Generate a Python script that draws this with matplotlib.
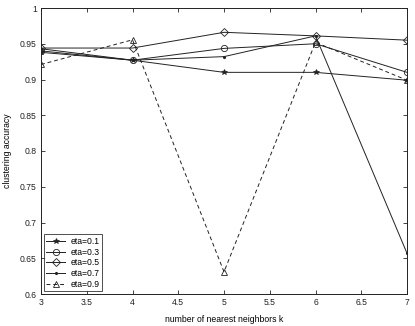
import matplotlib
matplotlib.use("Agg")
import matplotlib.pyplot as plt

k = [3, 4, 5, 6, 7]
eta01 = [0.938, 0.927, 0.910, 0.910, 0.899]
eta03 = [0.940, 0.927, 0.9435, 0.950, 0.910]
eta05 = [0.944, 0.944, 0.966, 0.961, 0.955]
eta07 = [0.943, 0.927, 0.932, 0.961, 0.657]
eta09 = [0.921, 0.9555, 0.631, 0.952, 0.899]
labels = ["eta=0.1", "eta=0.3", "eta=0.5", "eta=0.7", "eta=0.9"]
xticks = [3, 3.5, 4, 4.5, 5, 5.5, 6, 6.5, 7]
yticks = [0.6, 0.65, 0.7, 0.75, 0.8, 0.85, 0.9, 0.95, 1]

plt.rcParams['font.family'] = ['Liberation Sans', 'DejaVu Sans']
fig = plt.figure(figsize=(4.15, 3.26), dpi=100)
ax = fig.add_axes([41/415, 1 - 294/326, (407 - 41)/415, (294 - 8)/326])

c = '#222222'
lw = 0.7
fs = 6.2
ax.plot(k, eta01, '-', color=c, lw=lw, marker='*', ms=4, mfc=c, mec=c, mew=0.5, label=labels[0])
ax.plot(k, eta03, '-', color=c, lw=lw, marker='o', ms=4.5, mfc='none', mec=c, mew=0.6, label=labels[1])
ax.plot(k, eta05, '-', color=c, lw=lw, marker='D', ms=4, mfc='none', mec=c, mew=0.6, label=labels[2])
ax.plot(k, eta07, '-', color=c, lw=lw, marker='.', ms=2.5, mfc=c, mec=c, label=labels[3])
ax.plot(k, eta09, '--', color=c, lw=lw, marker='^', ms=4.5, mfc='none', mec=c, mew=0.6, label=labels[4], dashes=(4, 3))

ax.set_xlim(3, 7)
ax.set_ylim(0.6, 1)
ax.set_xticks(xticks)
ax.set_xticklabels([f"{v:g}" for v in xticks])
ax.set_yticks(yticks)
ax.set_yticklabels([f"{v:g}" for v in yticks])
ax.tick_params(direction='in', top=True, right=True, labelsize=fs, length=3, width=0.6, colors='#222222', pad=3)
for s in ax.spines.values():
    s.set_linewidth(0.7)
    s.set_color('#222222')
ax.set_xlabel("number of nearest neighbors k", fontsize=fs, labelpad=6)
ax.set_ylabel("clustering accuracy", fontsize=fs, labelpad=6)

leg = ax.legend(loc='lower left', fontsize=fs, frameon=True, fancybox=False, borderpad=0.3,
                labelspacing=0.2, handlelength=2.2, handletextpad=0.6, borderaxespad=0.3)
leg.get_frame().set_edgecolor('#222222')
leg.get_frame().set_linewidth(0.7)

fig.savefig("out.png", dpi=100)
